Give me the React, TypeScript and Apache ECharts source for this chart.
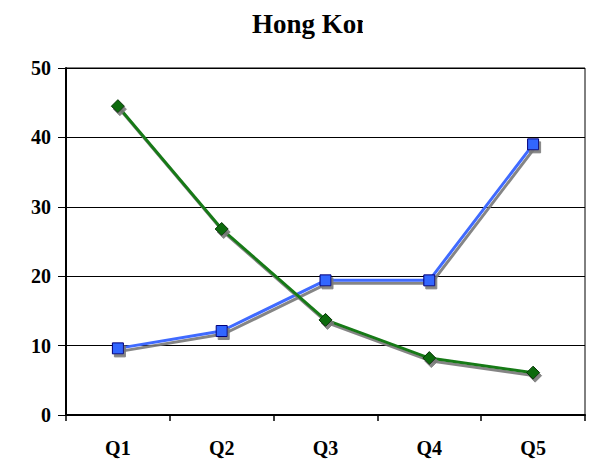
import React, { useEffect, useRef } from "react";
import * as echarts from "echarts";

const categories = ["Q1", "Q2", "Q3", "Q4", "Q5"];
const greenValues = [44.5, 26.8, 13.7, 8.2, 6.1];
const blueValues = [9.6, 12.1, 19.4, 19.4, 39.0];
const titleText = "Hong Kong";

export default function App() {
  const ref = useRef<HTMLDivElement>(null);
  useEffect(() => {
    if (!ref.current) return;
    const chart = echarts.init(ref.current, null, { renderer: "svg" });
    const font = "'Liberation Serif', 'Times New Roman', serif";
    const shadow = {
      shadowColor: "rgba(120,120,120,0.9)",
      shadowOffsetX: 2,
      shadowOffsetY: 3,
      shadowBlur: 0,
    };
    chart.setOption({
      animation: false,
      backgroundColor: "#ffffff",
      title: {
        text: titleText,
        left: 247,
        top: 5,
        textStyle: {
          fontFamily: font,
          fontWeight: "bold",
          fontSize: 27,
          color: "#000",
        },
      },
      graphic: [
        {
          type: "rect",
          left: 363,
          top: 0,
          shape: { width: 60, height: 50 },
          style: { fill: "#ffffff" },
          z: 100,
        },
      ],
      grid: {
        left: 66,
        right: 10,
        top: 68,
        bottom: 47,
        show: true,
        borderColor: "#000",
        borderWidth: 1,
      },
      xAxis: {
        type: "category",
        data: categories,
        boundaryGap: true,
        axisLine: { lineStyle: { color: "#000", width: 2 } },
        axisTick: { show: true, length: 6, lineStyle: { color: "#000", width: 1.5 } },
        axisLabel: {
          fontFamily: font,
          fontWeight: "bold",
          fontSize: 20,
          color: "#000",
          margin: 23,
        },
      },
      yAxis: {
        type: "value",
        min: 0,
        max: 50,
        interval: 10,
        axisLine: { show: true, lineStyle: { color: "#000", width: 2 } },
        axisTick: { show: true, length: 8, lineStyle: { color: "#000", width: 1 } },
        splitLine: { show: true, lineStyle: { color: "#000", width: 1.2 } },
        axisLabel: {
          fontFamily: font,
          fontWeight: "bold",
          fontSize: 20,
          color: "#000",
          margin: 15,
        },
      },
      series: [
        {
          type: "line",
          data: greenValues,
          symbol: "diamond",
          symbolSize: 13,
          lineStyle: { color: "#157a15", width: 3, ...shadow },
          itemStyle: { color: "#0b6b0b", borderColor: "#003300", borderWidth: 1, ...shadow },
          z: 3,
        },
        {
          type: "line",
          data: blueValues,
          symbol: "rect",
          symbolSize: 11,
          lineStyle: { color: "#3f6bff", width: 3, ...shadow },
          itemStyle: { color: "#3366ff", borderColor: "#00007a", borderWidth: 1, ...shadow },
          z: 2,
        },
      ],
    });
    return () => chart.dispose();
  }, []);
  return <div ref={ref} style={{ width: 595, height: 462, position: "absolute", left: 0, top: 0 }} />;
}
